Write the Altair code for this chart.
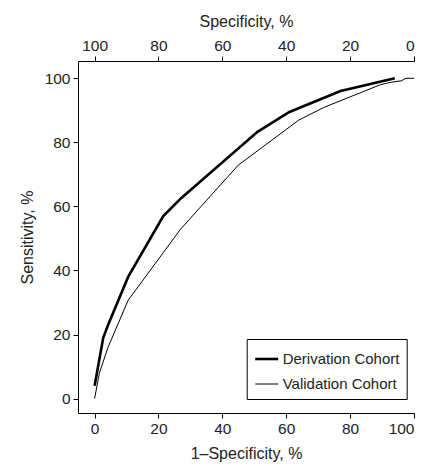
import altair as alt
import pandas as pd

# Derivation cohort ROC (1-specificity %, sensitivity %)
deriv_x = [0, 2.7, 4.2, 10.5, 21.5, 27, 51, 61, 77, 94]
deriv_y = [4, 19, 23, 38, 57, 62.5, 83.3, 89.5, 96, 100]

# Validation cohort ROC
valid_x = [0, 1.5, 4.2, 10.5, 27, 45, 64, 72, 89.5, 93, 96, 97.5, 99, 100]
valid_y = [0, 8, 16, 30.7, 53, 72.9, 87, 91, 98, 98.8, 99.2, 100, 100, 100]

cohorts = ["Derivation Cohort", "Validation Cohort"]
ticks = [0, 20, 40, 60, 80, 100]

rows = []
for i, (x, y) in enumerate(zip(deriv_x, deriv_y)):
    rows.append({"fpr": x, "sens": y, "cohort": cohorts[0], "order": i})
for i, (x, y) in enumerate(zip(valid_x, valid_y)):
    rows.append({"fpr": x, "sens": y, "cohort": cohorts[1], "order": i})
df = pd.DataFrame(rows)

FONT = "Liberation Sans"
TXT = "#222222"

xdom = [-5.2, 100]
ydom = [-4.5, 105.4]

base_axis = dict(
    values=ticks, tickSize=5, labelPadding=3, labelFontSize=15.5, titleFontSize=16,
    labelFont=FONT, titleFont=FONT, labelColor=TXT, titleColor=TXT,
    titleFontWeight="normal", domainColor="black", tickColor="black",
    domainWidth=1, tickWidth=1, grid=False,
)

lines = alt.Chart(df).mark_line(color="black").encode(
    x=alt.X("fpr:Q", scale=alt.Scale(domain=xdom, nice=False, zero=False),
            axis=alt.Axis(title="1–Specificity, %", orient="bottom", titlePadding=9, **base_axis)),
    y=alt.Y("sens:Q", scale=alt.Scale(domain=ydom, nice=False, zero=False),
            axis=alt.Axis(title="Sensitivity, %", titlePadding=9, **base_axis)),
    strokeWidth=alt.StrokeWidth(
        "cohort:N",
        scale=alt.Scale(domain=cohorts, range=[2.6, 1]),
        legend=alt.Legend(
            title=None, orient="none", legendX=168.7, legendY=278,
            direction="vertical", symbolType="stroke", symbolSize=529,
            symbolStrokeColor="black", labelFont=FONT, labelFontSize=15,
            labelColor=TXT, strokeColor="black", padding=7, rowPadding=5,
            fillColor="white", labelOffset=3,
        ),
    ),
    order="order:Q",
)

top = alt.Chart(df).mark_line(opacity=0).encode(
    x=alt.X("fpr:Q", scale=alt.Scale(domain=xdom, nice=False, zero=False),
            axis=alt.Axis(title="Specificity, %", orient="top", titlePadding=9,
                          labelExpr="100 - datum.value", **base_axis)),
    y=alt.Y("sens:Q", scale=alt.Scale(domain=ydom, nice=False, zero=False)),
    detail="cohort:N",
)

chart = alt.layer(lines, top).resolve_scale(x="independent").properties(
    width=336, height=352,
    autosize=alt.AutoSizeParams(type="none"),
    padding={"left": 70, "top": 53, "right": 15, "bottom": 58},
).configure_view(stroke=None)

chart.save("out.html", embed_options={"renderer": "svg", "actions": False})
